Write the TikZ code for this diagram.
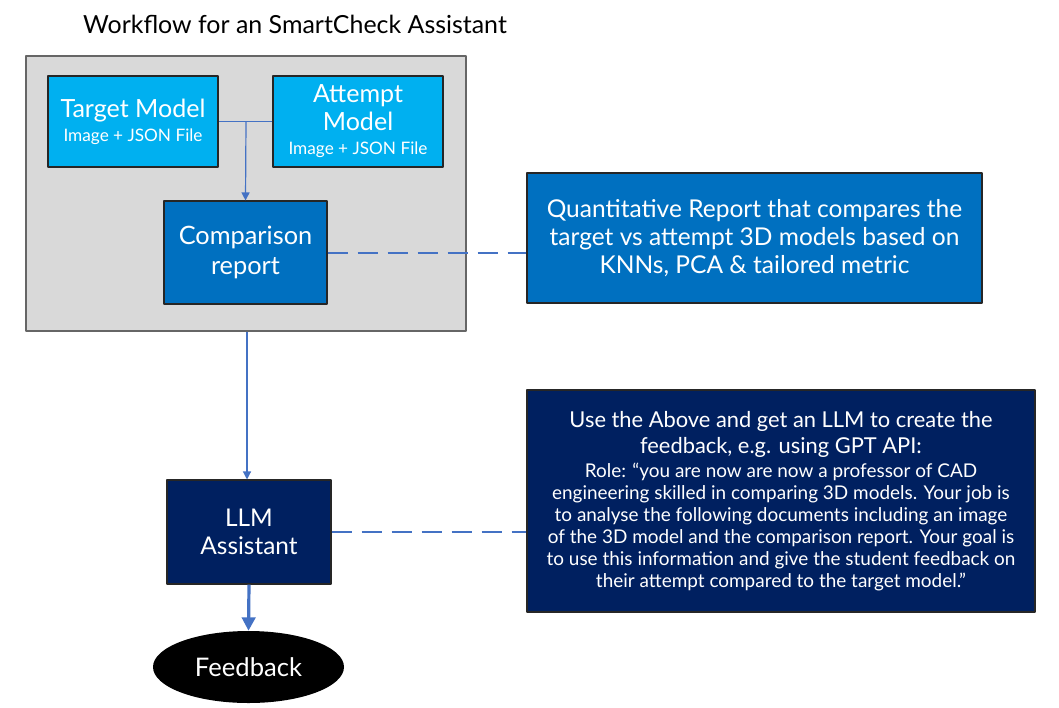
\documentclass[tikz,border=0pt]{standalone}
\usepackage{fontspec}
\setmainfont{Lato}
\usetikzlibrary{shapes.geometric,arrows.meta}
\definecolor{cyanbox}{HTML}{00B0F0}
\definecolor{midblue}{HTML}{0070C0}
\definecolor{navybox}{HTML}{002060}
\definecolor{linkblue}{HTML}{4472C4}
\definecolor{panelgray}{HTML}{D9D9D9}
\newcommand{\fs}[2]{\fontsize{#1}{#2}\selectfont}
\begin{document}
\begin{tikzpicture}[x=0.75pt,y=-0.75pt,>={Triangle[length=6pt,width=6pt]},line join=round,
    box/.style={draw=black!85,line width=0.8pt,text=white,align=center,inner sep=0pt},
    link/.style={draw=linkblue,line width=0.9pt},
    dashlink/.style={draw=linkblue,line width=1.5pt,dash pattern=on 15pt off 7.5pt}]
	\useasboundingbox (0,0) rectangle (1059,707);
	\node[font=\fs{18.7}{22}] (title) at (295,24) {Workflow for an SmartCheck Assistant};
	\node[draw=gray!80!black,fill=panelgray,line width=0.8pt,minimum width=330pt,minimum height=206.25pt,inner sep=0pt] (group) at (246,193.5) {};
	\node[box,fill=cyanbox,minimum width=127.5pt,minimum height=68.25pt,font=\fs{18.8}{20}] (target) at (133,121.5) {Target Model\\[-2pt]{\fs{12.9}{14}Image + JSON File}};
	\node[box,fill=cyanbox,minimum width=127.5pt,minimum height=68.25pt,font=\fs{18.8}{21}] (attempt) at (358,121.5) {Attempt\\Model\\[-3pt]{\fs{12.9}{14}Image + JSON File}};
	\node[box,fill=midblue,minimum width=122.25pt,minimum height=77.25pt,font=\fs{19}{22}] (compare) at (245.5,252.5) {Comparison\\report};
	\node[box,fill=midblue,minimum width=341.25pt,minimum height=97.5pt,font=\fs{18.4}{21}] (quant) at (754.5,238) {Quantitative Report that compares the\\target vs attempt 3D models based on\\KNNs, PCA \& tailored metric};
	\node[box,fill=navybox,minimum width=123pt,minimum height=78pt,font=\fs{18.3}{21}] (llm) at (249,532) {LLM\\Assistant};
	\node[box,fill=navybox,minimum width=381pt,minimum height=166.5pt,font=\fs{16.4}{20}] (prompt) at (781,501) {Use the Above and get an LLM to create the\\feedback, e.g. using GPT API:\\[-2pt]
		{\fs{14.2}{16.25}Role: “you are now are now a professor of CAD}\\[-3.5pt]
		{\fs{14.2}{16.25}engineering skilled in comparing 3D models. Your job is}\\[-3.5pt]
		{\fs{14.2}{16.25}to analyse the following documents including an image}\\[-3.5pt]
		{\fs{14.2}{16.25}of the 3D model and the comparison report. Your goal is}\\[-3.5pt]
		{\fs{14.2}{16.25}to use this information and give the student feedback on}\\[-3.5pt]
		{\fs{14.2}{16.25}their attempt compared to the target model.”}};
	\node[ellipse,fill=black,text=white,minimum width=143.25pt,minimum height=54pt,inner sep=0pt,font=\fs{19.2}{20}] (feedback) at (248.5,667) {Feedback};
	% connectors
	\coordinate (join) at (246,121.5);
	\draw[link] (target.east) -- (attempt.west);
	\draw[link,->] (join) -- (compare.north);
	\draw[dashlink] (compare.east) -- (compare.east -| quant.west);
	\draw[link,->] (group.south -| 247,0) -- (llm.north -| 247,0);
	\draw[dashlink] (llm.east) -- (llm.east -| prompt.west);
	\draw[draw=linkblue,line width=2.4pt,-{Triangle[length=10pt,width=10pt]}] (llm.south) -- (feedback.north);
\end{tikzpicture}
\end{document}
